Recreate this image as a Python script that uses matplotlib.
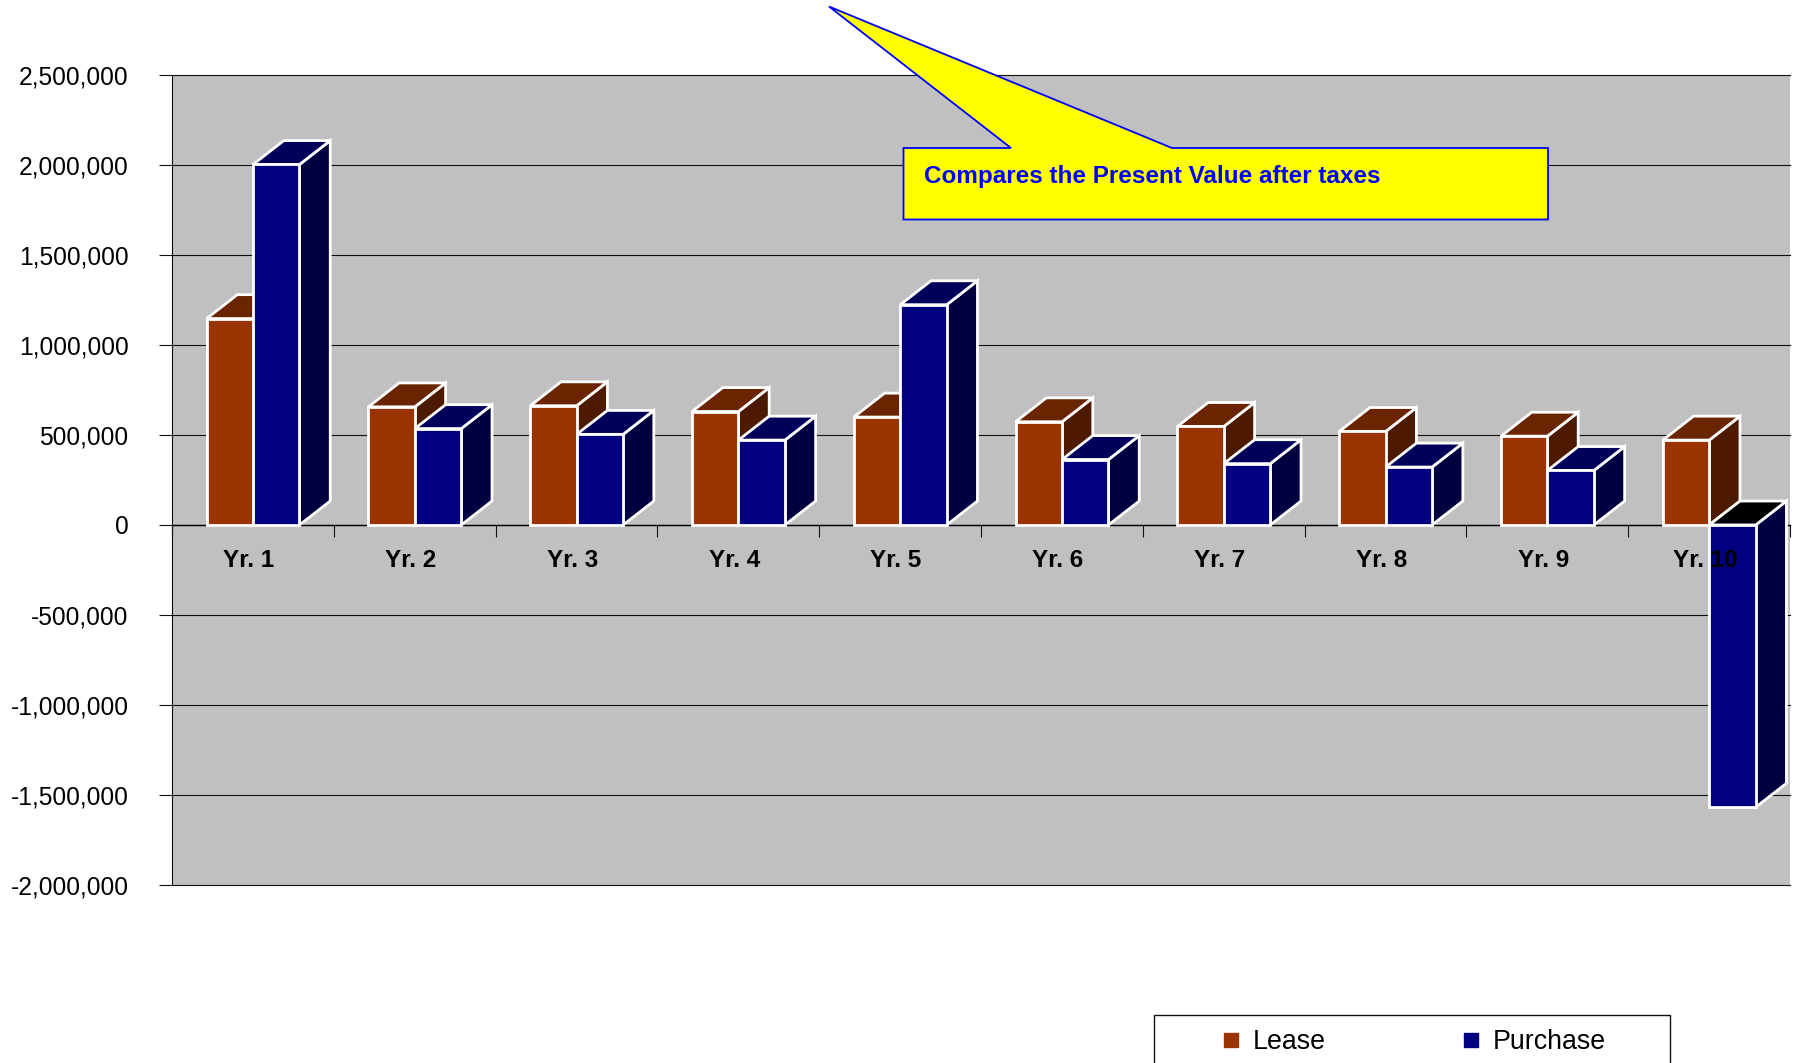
import matplotlib
matplotlib.use('Agg')
import matplotlib.pyplot as plt
from matplotlib.lines import Line2D
from matplotlib.patches import Polygon, Rectangle
from matplotlib.ticker import FuncFormatter

plt.rcParams['font.family'] = ['Liberation Sans', 'DejaVu Sans']

# values
years = ['Yr. 1', 'Yr. 2', 'Yr. 3', 'Yr. 4', 'Yr. 5', 'Yr. 6', 'Yr. 7', 'Yr. 8', 'Yr. 9', 'Yr. 10']
lease = [1148000, 657000, 663000, 631000, 600000, 574000, 548000, 520000, 494000, 472000]
purchase = [2005000, 536000, 504000, 472000, 1225000, 364000, 341000, 322000, 303000, -1570000]
y_ticks = [-2000000, -1500000, -1000000, -500000, 0, 500000, 1000000, 1500000, 2000000, 2500000]

W, H = 1798, 1063
LEFT, RIGHT, TOP, BOTTOM = 172, 1790, 75.5, 884.5

# bar geometry, in category units and value units
GAP = 0.214
BAR_W = 0.287
DEPTH_X = 0.19
DEPTH_Y = 133000


def px(x, y):
	# figure pixels from the top left to figure fraction
	return x / W, 1 - y / H


def draw_bar(ax, x, value, front, top, side):
	# one fake 3D column: side, top, then front
	lo, hi = min(value, 0), max(value, 0)
	x1 = x + BAR_W
	side_face = [(x1, lo), (x1 + DEPTH_X, lo + DEPTH_Y), (x1 + DEPTH_X, hi + DEPTH_Y), (x1, hi)]
	top_face = [(x, hi), (x + DEPTH_X, hi + DEPTH_Y), (x1 + DEPTH_X, hi + DEPTH_Y), (x1, hi)]
	front_face = [(x, lo), (x1, lo), (x1, hi), (x, hi)]
	if value < 0:
		top = 'black'
	for pts, colour in [(side_face, side), (top_face, top), (front_face, front)]:
		ax.add_patch(Polygon(pts, closed=True, facecolor=colour, edgecolor='white',
			linewidth=2.0, joinstyle='miter', zorder=2, clip_on=False))


def main():
	fig = plt.figure(figsize=(W / 100, H / 100), dpi=100, facecolor='white')
	ax = fig.add_axes([LEFT / W, 1 - BOTTOM / H, (RIGHT - LEFT) / W, (BOTTOM - TOP) / H])
	ax.set_facecolor('#c0c0c0')
	ax.set_xlim(0, len(years))
	ax.set_ylim(-2000000, 2500000)

	for i in range(len(years)):
		draw_bar(ax, i + GAP, lease[i], '#993300', '#6b2400', '#4d1a00')
		draw_bar(ax, i + GAP + BAR_W, purchase[i], '#000080', '#00005a', '#000040')

	ax.set_yticks(y_ticks)
	ax.yaxis.set_major_formatter(FuncFormatter(lambda v, p: format(int(v), ',')))
	ax.tick_params(axis='y', length=9.4, width=0.8, labelsize=17.7, pad=22, color='#111111')
	ax.grid(axis='y', color='#111111', linewidth=0.8)
	for line in ax.yaxis.get_gridlines():
		line.set_clip_on(False)

	ax.set_xticks(range(len(years) + 1))
	ax.set_xticklabels([])
	ax.tick_params(axis='x', which='major', length=8.6, width=0.8, color='#111111')

	# year labels sit under the zero line and over the columns
	for i, year in enumerate(years):
		ax.annotate(year, (i + 0.475, 0), xytext=(0, -25.6), textcoords='offset points',
			ha='center', va='center', fontsize=17.5, fontweight='bold', color='black',
			annotation_clip=False, zorder=5)

	for name in ['top', 'right']:
		ax.spines[name].set_visible(False)
	ax.spines['bottom'].set_position(('data', 0))
	ax.spines['bottom'].set_zorder(1.5)
	ax.spines['bottom'].set_linewidth(1.0)
	ax.spines['left'].set_linewidth(0.8)
	ax.spines['left'].set_color('#111111')
	# grid under the columns
	ax.yaxis.set_zorder(0.5)
	ax.xaxis.set_zorder(5)

	# yellow callout
	x0, x1, y0, y1 = 903.5, 1548, 148, 219.5
	outline = [(x0, y0), (1011, y0), (829, 6.5), (1172, y0), (x1, y0), (x1, y1), (x0, y1)]
	fig.add_artist(Polygon([px(*p) for p in outline], closed=True, transform=fig.transFigure,
		facecolor='#ffff00', edgecolor='#0000ff', linewidth=1.3, joinstyle='miter', zorder=6))
	tx, ty = px(924, 177)
	fig.text(tx, ty, 'Compares the Present Value after taxes', color='#0000ff', fontweight='bold',
		fontsize=17.5, ha='left', va='center', zorder=7)

	# legend frame runs off the bottom of the picture
	lx, ly = px(1153.5, 1070)
	fig.add_artist(Rectangle((lx, ly), (1670 - 1153.5) / W, (1070 - 1015) / H,
		transform=fig.transFigure, facecolor='white', edgecolor='#111111', linewidth=1.0, zorder=3))
	handles = [
		Line2D([], [], linestyle='none', marker='s', markersize=9.4, color='#993300'),
		Line2D([], [], linestyle='none', marker='s', markersize=9.4, color='#000080'),
	]
	leg = fig.legend(handles, ['Lease', 'Purchase'], ncol=2, frameon=False, fontsize=19.3,
		loc='center left', bbox_to_anchor=px(1218, 1042), borderpad=0, borderaxespad=0,
		handlelength=1.0, handletextpad=0.31, columnspacing=4.9)
	leg.set_zorder(4)

	fig.savefig('out.png', dpi=100)


if __name__ == '__main__':
	main()
